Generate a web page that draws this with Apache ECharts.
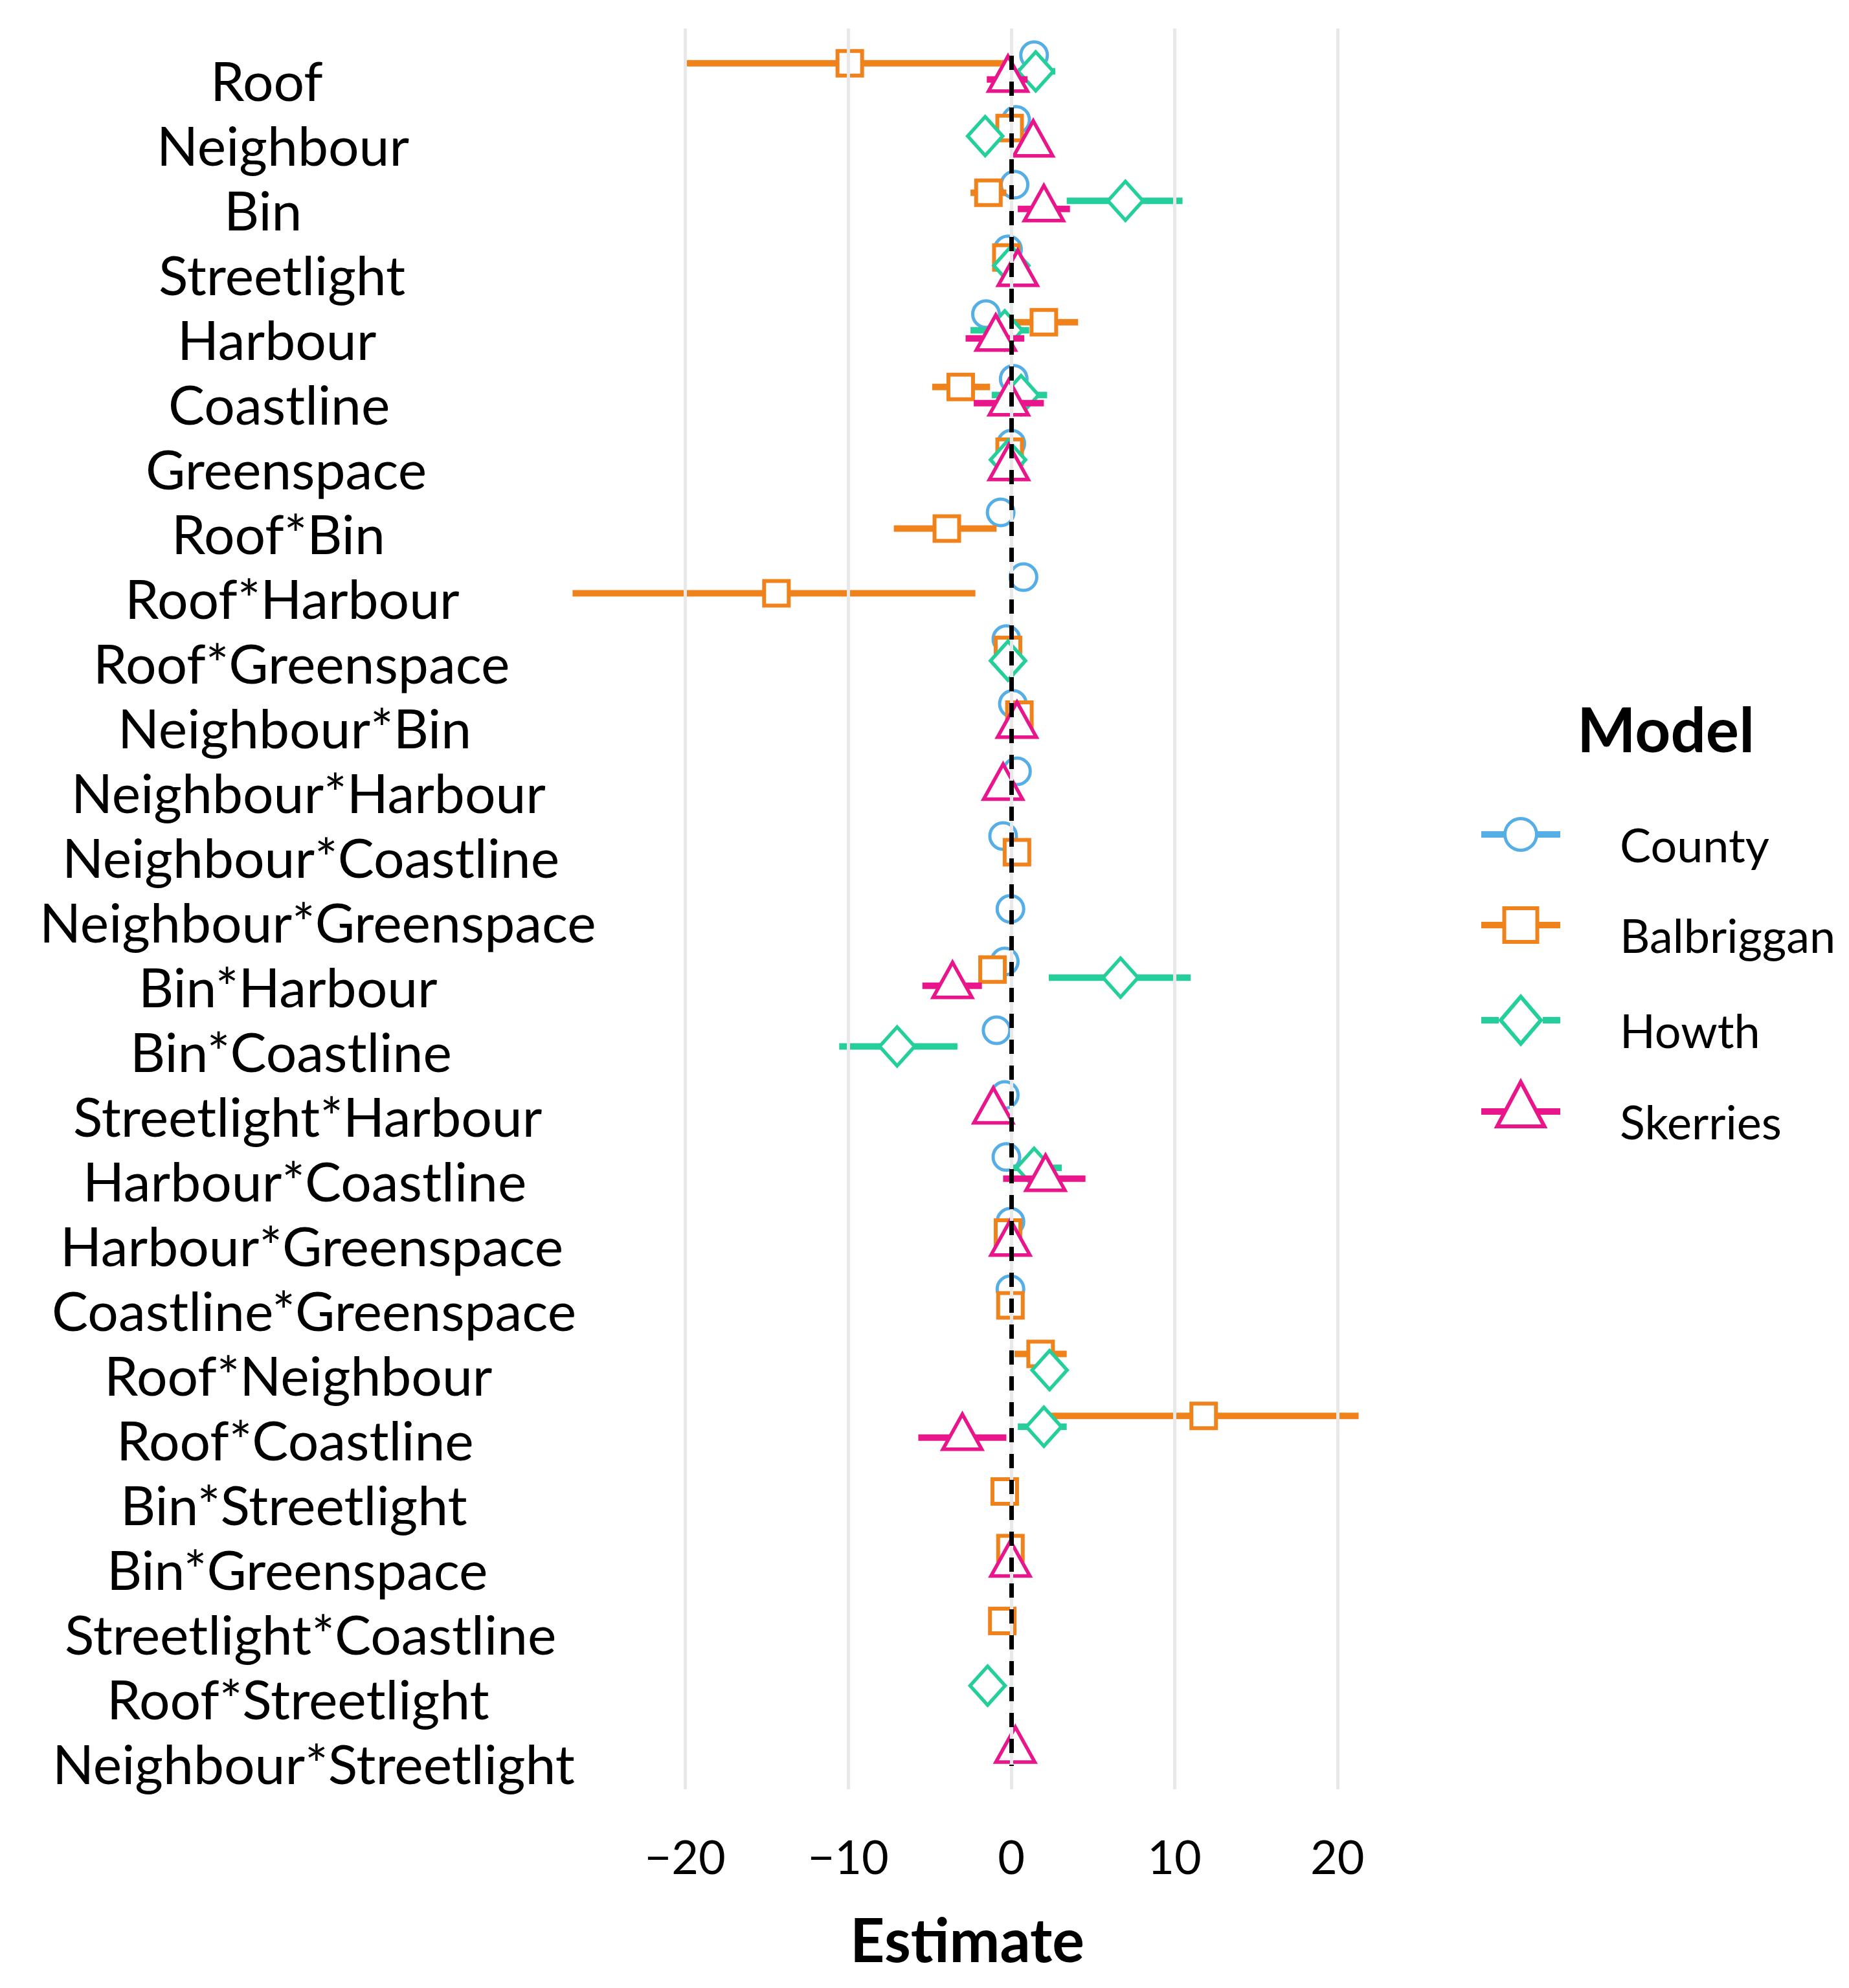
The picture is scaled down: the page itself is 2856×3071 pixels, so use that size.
<!DOCTYPE html>
<html>
<head>
<meta charset="utf-8">
<script src="https://cdn.jsdelivr.net/npm/echarts@6/dist/echarts.min.js"></script>
<style>
html,body{margin:0;padding:0;background:#fff;}
#chart{width:2856px;height:3071px;}
</style>
</head>
<body>
<div id="chart"></div>
<script>
const categories = ['Roof','Neighbour','Bin','Streetlight','Harbour','Coastline','Greenspace','Roof*Bin','Roof*Harbour','Roof*Greenspace','Neighbour*Bin','Neighbour*Harbour','Neighbour*Coastline','Neighbour*Greenspace','Bin*Harbour','Bin*Coastline','Streetlight*Harbour','Harbour*Coastline','Harbour*Greenspace','Coastline*Greenspace','Roof*Neighbour','Roof*Coastline','Bin*Streetlight','Bin*Greenspace','Streetlight*Coastline','Roof*Streetlight','Neighbour*Streetlight'];
const models = ['County','Balbriggan','Howth','Skerries'];
const xTicks = [-20, -10, 0, 10, 20];

const countyEst = [1.4, 0.3, 0.2, -0.2, -1.55, 0.15, 0.0, -0.65, 0.75, -0.3, 0.1, 0.35, -0.5, -0.05, -0.4, -0.9, -0.4, -0.3, -0.05, -0.05, null, null, null, null, null, null, null];
const countyLo  = [0.9, -0.2, -0.3, -0.7, -2.0, -0.35, -0.5, -1.1, 0.25, -0.8, -0.4, -0.15, -1.0, -0.5, -0.9, -1.4, -0.9, -0.8, -0.5, -0.5, null, null, null, null, null, null, null];
const countyHi  = [1.9, 0.8, 0.7, 0.3, -1.1, 0.65, 0.5, -0.2, 1.25, 0.2, 0.6, 0.85, 0.0, 0.4, 0.1, -0.4, 0.1, 0.2, 0.4, 0.4, null, null, null, null, null, null, null];

const balbrigganEst = [-9.9, -0.1, -1.4, -0.3, 2.0, -3.1, -0.1, -3.95, -14.4, -0.2, 0.5, null, 0.35, null, -1.15, null, null, null, -0.2, -0.05, 1.8, 11.8, -0.4, -0.05, -0.55, null, null];
const balbrigganLo  = [-20.0, -0.6, -2.5, -0.8, 0.1, -4.85, -0.6, -7.2, -26.9, -0.7, 0.0, null, -0.15, null, -1.7, null, null, null, -0.7, -0.55, 0.2, 2.4, -0.9, -0.55, -1.05, null, null];
const balbrigganHi  = [-0.2, 0.4, -0.3, 0.2, 4.1, -1.3, 0.4, -0.9, -2.2, 0.3, 1.0, null, 0.85, null, -0.6, null, null, null, 0.3, 0.45, 3.4, 21.3, 0.1, 0.45, -0.05, null, null];

const howthEst = [1.5, -1.6, 7.0, 0.0, -0.4, 0.6, -0.2, null, null, -0.2, null, null, null, null, 6.7, -7.0, null, 1.4, null, null, 2.35, 2.0, null, null, null, -1.45, null];
const howthLo  = [0.4, -2.1, 3.4, -0.5, -2.5, -1.2, -0.7, null, null, -0.7, null, null, null, null, 2.3, -10.55, null, 0.0, null, null, 1.85, 0.4, null, null, null, -1.95, null];
const howthHi  = [2.7, -1.1, 10.5, 0.5, 1.1, 2.2, 0.3, null, null, 0.3, null, null, null, null, 11.0, -3.3, null, 3.1, null, null, 2.85, 3.4, null, null, null, -0.95, null];

const skerriesEst = [-0.2, 1.35, 2.0, 0.4, -0.95, -0.15, -0.15, null, null, null, 0.35, -0.5, null, null, -3.6, null, -1.1, 2.1, -0.05, null, null, -3.0, null, -0.05, null, null, 0.25];
const skerriesLo  = [-1.5, 0.85, 0.4, -0.1, -2.8, -2.3, -0.65, null, null, null, -0.15, -1.0, null, null, -5.45, null, -1.6, -0.5, -0.55, null, null, -5.7, null, -0.55, null, null, -0.25];
const skerriesHi  = [1.0, 1.85, 3.6, 0.9, 0.8, 2.0, 0.35, null, null, null, 0.85, 0.0, null, null, -1.8, null, -0.6, 4.55, 0.45, null, null, -0.3, null, 0.45, null, null, 0.75];

const zeroLineSpan = [-0.18, 26.24];

const colors = {County:'#56AEE6', Balbriggan:'#F0821C', Howth:'#24CF9B', Skerries:'#E8168A'};
const shapes = {County:'circle', Balbriggan:'square', Howth:'diamond', Skerries:'triangle'};
const modelData = {
  County: [countyEst, countyLo, countyHi],
  Balbriggan: [balbrigganEst, balbrigganLo, balbrigganHi],
  Howth: [howthEst, howthLo, howthHi],
  Skerries: [skerriesEst, skerriesLo, skerriesHi]
};

const FONT = 'Lato';
const LABEL_SIZE = 84;
const DODGE = 0.5;
const LABEL_SHIFT = 0.25;

function offsetFor(model, ci) {
  const present = models.filter(m => modelData[m][0][ci] !== null);
  const n = present.length;
  const rank = present.indexOf(model);
  return (rank - (n - 1) / 2) * DODGE / n;
}

function buildData(model) {
  const [est, lo, hi] = modelData[model];
  const out = [];
  for (let i = 0; i < categories.length; i++) {
    if (est[i] === null) continue;
    out.push([est[i], i + offsetFor(model, i), lo[i], hi[i]]);
  }
  return out;
}

function renderer(model) {
  const shape = shapes[model];
  return function (params, api) {
    const est = api.value(0), yv = api.value(1), lo = api.value(2), hi = api.value(3);
    const p = api.coord([est, yv]);
    const a = api.coord([lo, yv]);
    const b = api.coord([hi, yv]);
    const c = colors[model];
    const x = p[0], y = p[1];
    const children = [{
      type: 'line',
      shape: {x1: a[0], y1: y, x2: b[0], y2: y},
      style: {stroke: c, lineWidth: 10}
    }];
    if (shape === 'circle') {
      children.push({type:'circle', shape:{cx:x, cy:y, r:20.5}, style:{fill:'#fff', stroke:c, lineWidth:5}});
    } else if (shape === 'square') {
      children.push({type:'rect', shape:{x:x-19, y:y-19, width:38, height:38}, style:{fill:'#fff', stroke:c, lineWidth:6}});
    } else if (shape === 'diamond') {
      children.push({type:'polygon', shape:{points:[[x, y-30],[x+27, y],[x, y+30],[x-27, y]]}, style:{fill:'#fff', stroke:c, lineWidth:5.5}});
    } else {
      children.push({type:'polygon', shape:{points:[[x, y-36],[x+30, y+18],[x-30, y+18]]}, style:{fill:'#fff', stroke:c, lineWidth:5.5, lineJoin:'miter'}});
    }
    return {type:'group', children};
  };
}

// term labels: horizontal placement like the original (left edge = 392 - 0.385 * width)
const GRID_LEFT = 829;
const LABEL_ANCHOR = 20;
const mctx = document.createElement('canvas').getContext('2d');
mctx.font = LABEL_SIZE + 'px ' + FONT;
const labelRich = {};
categories.forEach((name, i) => {
  const w = mctx.measureText(name).width;
  const left = 392 - 0.385 * w;
  labelRich['c' + i] = {
    fontFamily: FONT, fontSize: LABEL_SIZE, color: '#000',
    padding: [0, 0, 0, Math.max(0, Math.round(left - LABEL_ANCHOR))]
  };
});

const icons = {
  County: {
    w: 122, h: 94,
    path: 'path://M0,22L36,22L36,32L0,32Z M86,22L122,22L122,32L86,32Z ' +
          'M34,27A27,27 0 1,1 88,27A27,27 0 1,1 34,27Z M39,27A22,22 0 1,0 83,27A22,22 0 1,0 39,27Z ' +
          'M61,93.99L61.01,93.99L61.01,94L61,94Z'
  },
  Balbriggan: {
    w: 122, h: 98,
    path: 'path://M0,24L33,24L33,34L0,34Z M89,24L122,24L122,34L89,34Z ' +
          'M32.5,0L89.5,0L89.5,58L32.5,58Z M38.5,6L38.5,52L83.5,52L83.5,6Z ' +
          'M61,97.99L61.01,97.99L61.01,98L61,98Z'
  },
  Howth: {
    w: 122, h: 122,
    path: 'path://M0,36L27,36L27,46L0,46Z M95,36L122,36L122,46L95,46Z ' +
          'M61,0L96,41L61,82L26,41Z M61,9.2L33.9,41L61,72.8L88.1,41Z ' +
          'M61,121.99L61.01,121.99L61.01,122L61,122Z'
  },
  Skerries: {
    w: 122, h: 144,
    path: 'path://M0,47L36,47L36,57L0,57Z M86,47L122,47L122,57L86,57Z ' +
          'M61,0L102.5,78L19.5,78Z M61,12.8L29.5,72L92.5,72Z ' +
          'M61,143.99L61.01,143.99L61.01,144L61,144Z'
  }
};
const legendTops = {County: 1262, Balbriggan: 1400, Howth: 1535, Skerries: 1665};

const series = [];
series.push({
  type: 'line', data: [], silent: true, z: 0,
  markLine: {
    silent: true, symbol: 'none', label: {show: false}, animation: false,
    lineStyle: {color: '#E8E8E8', width: 5, type: 'solid'},
    data: xTicks.map(v => ({xAxis: v}))
  }
});
models.forEach(m => {
  series.push({
    name: m, type: 'custom', z: 2,
    itemStyle: {color: colors[m]},
    renderItem: renderer(m),
    encode: {x: 0, y: 1},
    data: buildData(m)
  });
});
series.push({
  type: 'line', data: [], silent: true, z: 10,
  markLine: {
    silent: true, symbol: 'none', label: {show: false}, animation: false, z: 10,
    lineStyle: {color: '#000', width: 7, type: [22, 18]},
    data: [[{coord: [0, zeroLineSpan[0]]}, {coord: [0, zeroLineSpan[1]]}]]
  }
});

const legends = models.map(m => ({
  show: true,
  selectedMode: false,
  orient: 'vertical',
  left: 2288,
  top: legendTops[m],
  padding: 0,
  itemWidth: icons[m].w,
  itemHeight: icons[m].h,
  textStyle: {fontFamily: FONT, fontSize: 72, color: '#000', padding: [0, 0, 0, 87]},
  data: [{name: m, icon: icons[m].path, itemStyle: {color: colors[m], borderWidth: 0}}]
}));

const option = {
  animation: false,
  backgroundColor: '#fff',
  title: {
    text: 'Model', left: 2431, top: 1078,
    textStyle: {fontFamily: FONT, fontWeight: 'bold', fontSize: 96, color: '#000'}
  },
  legend: legends,
  grid: {left: GRID_LEFT, top: 44, width: 1330, height: 2720, containLabel: false},
  xAxis: {
    type: 'value', min: -29.1, max: 23.7,
    splitLine: {show: false}, axisLine: {show: false}, axisTick: {show: false},
    axisLabel: {
      customValues: xTicks, fontFamily: FONT, fontSize: 72, color: '#000', margin: 72,
      formatter: v => (v < 0 ? '\u2212' + Math.abs(v) : String(v))
    },
    name: 'Estimate', nameLocation: 'middle', nameGap: 190,
    nameTextStyle: {fontFamily: FONT, fontWeight: 'bold', fontSize: 93, color: '#000'}
  },
  yAxis: {
    type: 'value', inverse: true, min: -0.6, max: 26.6,
    splitLine: {show: false}, axisLine: {show: false}, axisTick: {show: false},
    axisLabel: {
      customValues: categories.map((c, i) => i + LABEL_SHIFT),
      formatter: v => {
        const i = Math.round(v - LABEL_SHIFT);
        return categories[i] ? '{c' + i + '|' + categories[i] + '}' : '';
      },
      rich: labelRich,
      fontFamily: FONT, fontSize: LABEL_SIZE, color: '#000',
      align: 'left', margin: GRID_LEFT - LABEL_ANCHOR
    }
  },
  series: series
};

const chart = echarts.init(document.getElementById('chart'), null, {renderer: 'canvas'});
chart.setOption(option);
</script>
</body>
</html>
